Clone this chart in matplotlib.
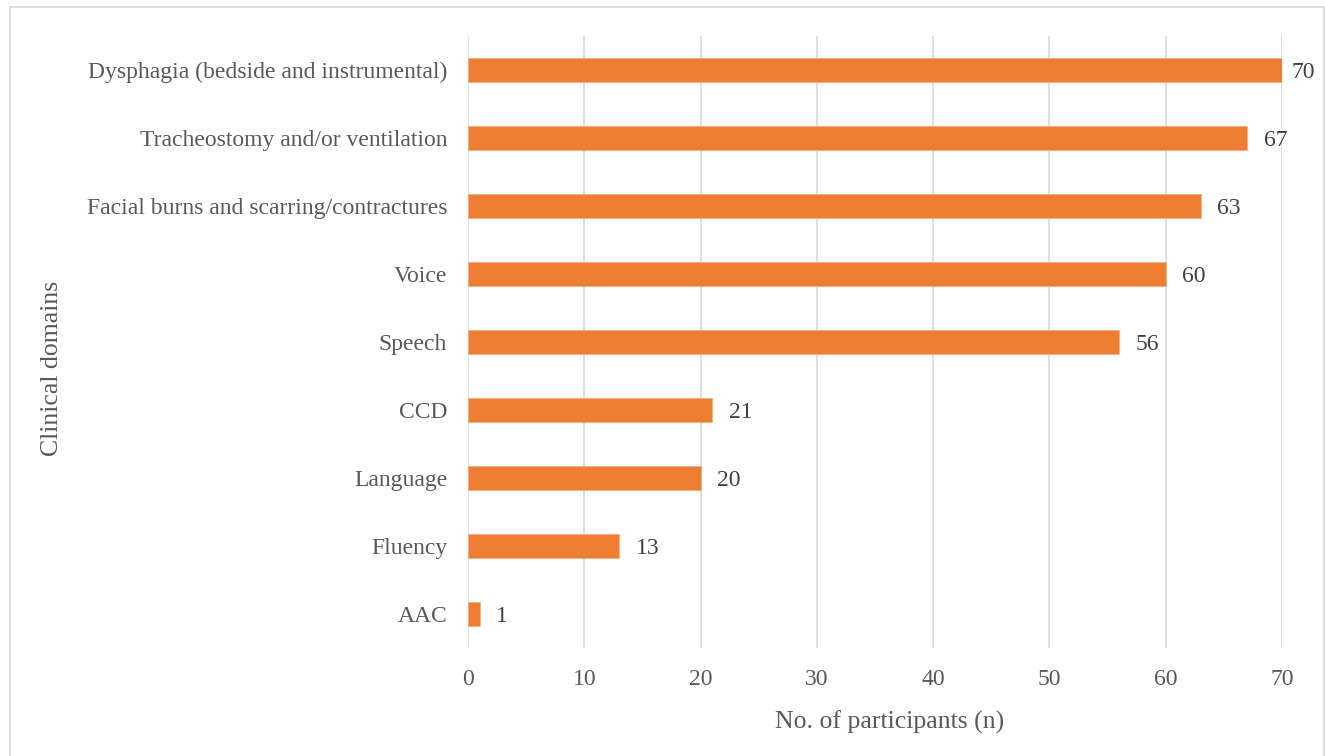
import matplotlib.pyplot as plt
from matplotlib.patches import Rectangle

categories = [
    "AAC",
    "Fluency",
    "Language",
    "CCD",
    "Speech",
    "Voice",
    "Facial burns and scarring/contractures",
    "Tracheostomy and/or ventilation",
    "Dysphagia (bedside and instrumental)",
]
participants = [1, 13, 20, 21, 56, 60, 63, 67, 70]
x_ticks = [0, 10, 20, 30, 40, 50, 60, 70]

BAR_COLOR = "#ED7D31"
TEXT_COLOR = "#595959"
GRID_COLOR = "#D9D9D9"
FS = 17
TITLE_FS = 18.5

plt.rcParams["font.family"] = ["Liberation Serif", "DejaVu Serif"]

W, H = 1325, 756
fig = plt.figure(figsize=(W / 100, H / 100), dpi=100)
ax = fig.add_axes([468 / W, 1 - 648 / H, (1282 - 468) / W, (648 - 36) / H])

pos = list(range(len(categories)))
ax.barh(pos, participants, height=0.35, color=BAR_COLOR,
        edgecolor="#F4B183", linewidth=0.6, zorder=3)

top = max(participants)
for y, v in zip(pos, participants):
    # the longest bar's label is pulled in so it stays inside the frame
    off = 7 if v == top else 12
    ax.annotate(str(v), (v, y), xytext=(off, 0), textcoords="offset points",
                va="center_baseline", ha="left", fontsize=FS, color="#404040")

ax.set_xlim(0, 70)
ax.set_ylim(-0.5, len(categories) - 0.5)
ax.set_xticks(x_ticks)
ax.set_yticks(pos)
ax.set_yticklabels(categories)
ax.tick_params(axis="both", length=0, labelsize=FS, colors=TEXT_COLOR)
ax.tick_params(axis="x", pad=15)
ax.tick_params(axis="y", pad=15)
for lbl in ax.get_yticklabels():
    lbl.set_verticalalignment("center_baseline")

ax.grid(axis="x", color=GRID_COLOR, linewidth=1.2, zorder=0)
for s in ax.spines.values():
    s.set_visible(False)

ax.set_xlabel("No. of participants (n)", fontsize=TITLE_FS, color=TEXT_COLOR)
ax.xaxis.set_label_coords(0.518, -0.103)
fig.text(52 / W, 1 - 368 / H, "Clinical domains", rotation=90,
         fontsize=TITLE_FS, color=TEXT_COLOR, ha="center", va="center")

# light chart-area frame
fig.patches.append(Rectangle((10 / W, -0.05), (1324 - 10) / W, 1.05 - 7 / H,
                             transform=fig.transFigure, fill=False,
                             edgecolor=GRID_COLOR, linewidth=1.2))

fig.savefig("out.png", dpi=100)
